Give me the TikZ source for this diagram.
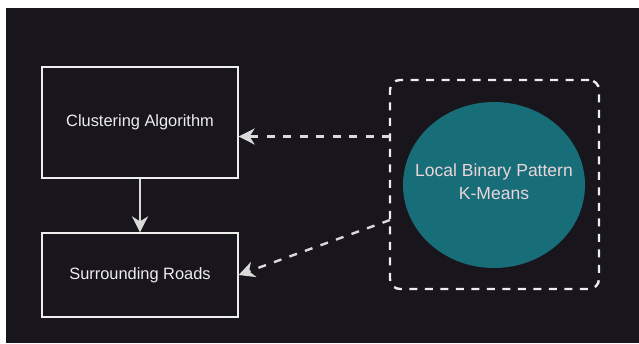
\documentclass[tikz,border=0pt]{standalone}
\usepackage{fontspec}
\setmainfont{Liberation Sans}
\usetikzlibrary{arrows.meta,shapes.geometric}

\definecolor{bgdark}{HTML}{18151D}
\definecolor{tealfill}{HTML}{176E78}
\definecolor{lineg}{HTML}{EDEDED}
\definecolor{arrowg}{HTML}{DADADA}
\definecolor{pinktext}{HTML}{EBD5DA}

\begin{document}
\begin{tikzpicture}[x=1pt,y=-1pt,
  box/.style={draw=lineg,line width=1.2pt,minimum width=196pt,inner sep=0pt,
    text=lineg,font=\fontsize{16.4}{20}\selectfont},
  tip/.style={-{Stealth[length=16pt,width=16pt,inset=5pt]}},
  dashlink/.style={tip,draw=arrowg,line width=2.4pt,dash pattern=on 8pt off 8.5pt}]

\useasboundingbox (0,0) rectangle (639,343);
\fill[white] (0,0) rectangle (639,343);
\fill[bgdark] (6,8) rectangle (639,343);

% left column
\node[box,minimum height=111pt] (clu) at (140,122.5) {Clustering Algorithm};
\node[box,minimum height=84pt] (sur) at (140,275) {Surrounding Roads};
\draw[tip,draw=arrowg,line width=2.2pt] (clu.south) -- (sur.north);

% group on the right
\node[draw=lineg,line width=2.4pt,dash pattern=on 8pt off 7.5pt,rounded corners=10pt,
  minimum width=209pt,minimum height=209pt] (grp) at (494.5,184.5) {};
\node[ellipse,fill=tealfill,minimum width=182pt,minimum height=166pt] (lbp) at (494,185) {};
\node[align=center,text=pinktext,font=\fontsize{17.5}{23}\selectfont] (lbptxt) at (494,182)
  {Local Binary Pattern\\K-Means};

\coordinate (outA) at (390,136.5);
\coordinate (outB) at (390,220);
\draw[dashlink] (outA) -- (clu.east |- outA);
\draw[dashlink] (outB) -- (sur.east);
\end{tikzpicture}
\end{document}
